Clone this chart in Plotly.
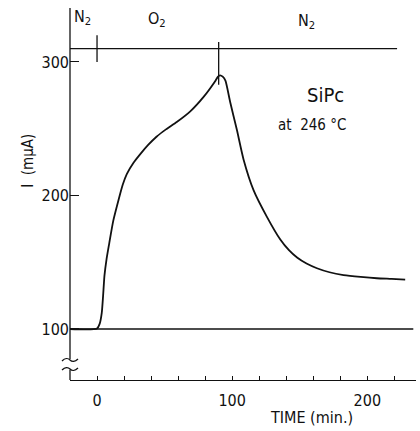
import plotly.graph_objects as go

# ---- data ----
time_min = [-20, 0, 2, 3.5, 4.5, 5.5, 7, 9, 12, 16, 19, 22, 27, 32, 38, 44, 51, 59, 69,
            79, 87, 89.5, 91, 93, 95, 98.5, 103.5, 108.4, 115.8, 125.7, 135.6, 142,
            148, 155, 162.7, 172, 182.4, 195, 207, 218, 228]
current_muA = [100, 100.3, 104, 112, 125, 140, 152, 164, 181, 197, 208, 216, 224.5,
               231, 238, 244, 249.5, 255, 263, 274, 285, 289, 290, 289, 286, 270, 249,
               227, 204, 184, 167, 159, 153.5, 149, 145.5, 142.5, 140.4, 139, 138,
               137.5, 137]
baseline_t = [-20, 234]
baseline_v = [100, 100]
gas_line_t = [-20, 222]
gas_line_v = [310, 310]
switch_times = [0, 90]
switch_lo = [300, 283]
switch_hi = [320, 315]
gas_labels = ["N<sub>2</sub>", "O<sub>2</sub>", "N<sub>2</sub>"]
gas_label_t = [-11, 44, 155]
gas_label_v = [333, 331.5, 330]
x_tickvals = [0, 100, 200]
x_ticktext = ["0", "100", "200"]
y_tickvals = [100, 200, 300]
y_ticktext = ["100", "200", "300"]

FONT = "Liberation Sans Narrow, DejaVu Sans Condensed, DejaVu Sans, sans-serif"
INK = "#111111"

fig = go.Figure()
fig.add_trace(go.Scatter(x=baseline_t, y=baseline_v, mode="lines",
                         line=dict(color=INK, width=1.3), hoverinfo="skip"))
fig.add_trace(go.Scatter(x=gas_line_t, y=gas_line_v, mode="lines",
                         line=dict(color=INK, width=1.3), hoverinfo="skip"))
for t, lo, hi in zip(switch_times, switch_lo, switch_hi):
    fig.add_trace(go.Scatter(x=[t, t], y=[lo, hi], mode="lines",
                             line=dict(color=INK, width=1.3), hoverinfo="skip"))
fig.add_trace(go.Scatter(x=time_min, y=current_muA, mode="lines",
                         line=dict(color=INK, width=1.8, shape="spline", smoothing=0.6)))

for txt, t, v in zip(gas_labels, gas_label_t, gas_label_v):
    fig.add_annotation(x=t, y=v, text=txt, showarrow=False,
                       font=dict(family=FONT, size=16, color=INK))

fig.add_annotation(x=169, y=275, text="SiPc", showarrow=False,
                   font=dict(family=FONT, size=20, color=INK))
fig.add_annotation(x=159, y=253, text="at  246 °C", showarrow=False,
                   font=dict(family=FONT, size=15, color=INK))
fig.add_annotation(x=159, y=-0.1, xref="x", yref="paper", text="TIME (min.)",
                   showarrow=False, yanchor="middle",
                   font=dict(family=FONT, size=16, color=INK))
fig.add_annotation(x=-0.153, xref="paper", y=226, yref="y", text="I  (mμA)",
                   textangle=-90, showarrow=False,
                   font=dict(family=FONT, size=15, color=INK))

# y axis line with break
fig.add_shape(type="line", xref="paper", yref="y", x0=0, x1=0, y0=77.5, y1=340.4,
              line=dict(color=INK, width=1.3))
fig.add_shape(type="line", xref="paper", yref="y", x0=0, x1=0, y0=61.8, y1=69.5,
              line=dict(color=INK, width=1.3))
for ya in [76.8, 70.0]:
    fig.add_shape(type="path", xref="paper", yref="y", xsizemode="pixel", ysizemode="pixel",
                  xanchor=0, yanchor=ya,
                  path="M -8,-1 C -5,2 -2,2 0,0 C 2,-2 5,-2 8,1",
                  line=dict(color=INK, width=1.3))

fig.update_layout(
    width=420, height=431,
    margin=dict(l=70, r=4, t=8, b=51),
    paper_bgcolor="white", plot_bgcolor="white",
    showlegend=False,
    xaxis=dict(range=[-20, 236], showgrid=False, zeroline=False,
               showline=True, linecolor=INK, linewidth=1.3,
               ticks="inside", ticklen=4, tickcolor=INK, tickwidth=1.2,
               tickvals=x_tickvals, ticktext=x_ticktext, ticklabelstandoff=6,
               tickfont=dict(family=FONT, size=16, color=INK),
               minor=dict(ticks="inside", tick0=0, dtick=20, ticklen=4,
                          tickcolor=INK, tickwidth=1.2, showgrid=False)),
    yaxis=dict(range=[61.8, 340.4], showgrid=False, zeroline=False, showline=False,
               ticks="inside", ticklen=9, tickcolor=INK, tickwidth=1.2,
               tickvals=y_tickvals, ticktext=y_ticktext,
               tickfont=dict(family=FONT, size=16, color=INK)),
)

fig.write_html("out.html")
